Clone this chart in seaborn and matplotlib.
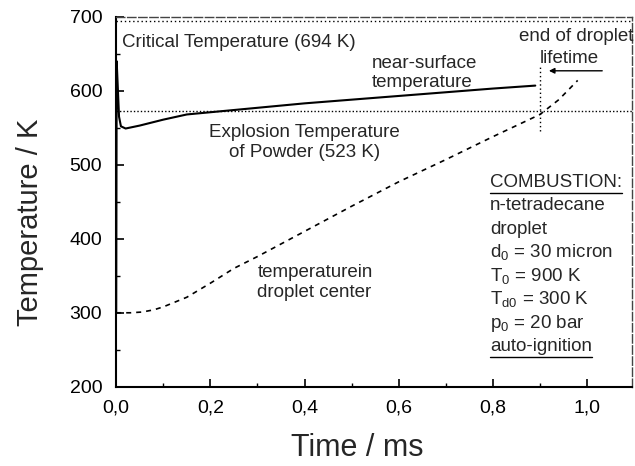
import matplotlib.pyplot as plt
import matplotlib.ticker as mticker
import pandas as pd
import seaborn as sns

# near-surface temperature (solid)
SURF_T = [0.0, 0.001, 0.003, 0.006, 0.01, 0.02, 0.05, 0.1, 0.15, 0.2, 0.3, 0.4,
          0.5, 0.6, 0.7, 0.8, 0.89]
SURF_K = [300, 640, 610, 565, 552, 549, 553, 561, 568, 571, 577, 583,
          588, 593, 598, 603, 607]

# temperature in droplet center (dashed)
CENT_T = [0.0, 0.03, 0.055, 0.08, 0.1, 0.15, 0.2, 0.25, 0.3, 0.4, 0.5, 0.6,
          0.7, 0.8, 0.9, 0.94, 0.98]
CENT_K = [300, 300, 301, 304, 308, 321, 340, 360, 376, 410, 444, 477,
          507, 538, 568, 588, 614]

CRITICAL_K = 694
EXPLOSION_K = 572
LIFETIME_MS = 0.9

X_TICKS = [0.0, 0.2, 0.4, 0.6, 0.8, 1.0]
Y_TICKS = [200, 300, 400, 500, 600, 700]

BOX_LINES = ["COMBUSTION:", "n-tetradecane", "droplet",
             r"d$_{\mathregular{0}}$ = 30 micron",
             r"T$_{\mathregular{0}}$ = 900 K",
             r"T$_{\mathregular{d0}}$ = 300 K",
             r"p$_{\mathregular{0}}$ = 20 bar", "auto-ignition"]

sns.set_theme(style="ticks")
plt.rcParams["font.family"] = ["Liberation Sans", "DejaVu Sans"]
plt.rcParams["mathtext.fontset"] = "custom"
plt.rcParams["mathtext.rm"] = "Liberation Sans"

surf = pd.DataFrame({"t": SURF_T, "T": SURF_K})
cent = pd.DataFrame({"t": CENT_T, "T": CENT_K})

fig = plt.figure(figsize=(6.35, 4.66), dpi=100)
ax = fig.add_axes([0.183, 0.170, 0.812, 0.794])

sns.lineplot(data=surf, x="t", y="T", ax=ax, color="black", linewidth=1.5,
             sort=False)
sns.lineplot(data=cent, x="t", y="T", ax=ax, color="black", linewidth=1.2,
             linestyle=(0, (3, 3)), sort=False)

ax.axhline(CRITICAL_K, color="black", linewidth=1.0, linestyle=(0, (1, 2)))
ax.axhline(EXPLOSION_K, color="black", linewidth=1.0, linestyle=(0, (1, 1.5)))
ax.plot([LIFETIME_MS, LIFETIME_MS], [545, 633], color="black",
        linewidth=1.0, linestyle=(0, (1, 2)))

ax.annotate("", xy=(0.913, 627), xytext=(1.038, 627),
            arrowprops=dict(arrowstyle="-|>", color="black", lw=1.0,
                            mutation_scale=8))

fs = 13.5
ax.text(0.013, 665, "Critical Temperature (694 K)", fontsize=fs, va="center")
ax.text(0.543, 624, "near-surface\ntemperature", fontsize=fs, va="center",
        linespacing=1.2)
ax.text(0.855, 673, "end of droplet", fontsize=fs, va="center")
ax.text(0.962, 643, "lifetime", fontsize=fs, va="center", ha="center")
ax.text(0.40, 530, "Explosion Temperature\nof Powder (523 K)", fontsize=fs,
        va="center", ha="center", linespacing=1.2)
ax.text(0.30, 341, "temperaturein\ndroplet center", fontsize=fs, va="center",
        linespacing=1.2)

y0 = 476
step = 31.7
texts = []
for i, line in enumerate(BOX_LINES):
    texts.append(ax.text(0.794, y0 - i * step, line, fontsize=fs, va="center"))

ax.set_xlim(0, 1.095)
ax.set_ylim(200, 700)

# underline first and last line of the box, using the drawn text extents
renderer = fig.canvas.get_renderer()
inv = ax.transData.inverted()
for txt, yline in [(texts[0], y0 - 14), (texts[-1], y0 - 7 * step - 14)]:
    bb = txt.get_window_extent(renderer)
    x_left = inv.transform((bb.x0, bb.y0))[0]
    x_right = inv.transform((bb.x1, bb.y0))[0]
    ax.plot([x_left, x_right], [yline, yline], color="black", linewidth=1.0)

ax.set_xticks(X_TICKS)
ax.set_yticks(Y_TICKS)
ax.xaxis.set_minor_locator(mticker.MultipleLocator(0.1))
ax.yaxis.set_minor_locator(mticker.MultipleLocator(50))
ax.xaxis.set_major_formatter(
    mticker.FuncFormatter(lambda v, _: f"{v:.1f}".replace(".", ",")))
ax.tick_params(which="both", direction="in", colors="black", labelsize=14)
ax.tick_params(axis="x", which="major", pad=9)
ax.tick_params(axis="y", which="major", pad=10)
ax.tick_params(which="major", length=6, width=1.2)
ax.tick_params(which="minor", length=3, width=1.0)

ax.set_xlabel("Time / ms", fontsize=22)
ax.set_ylabel("Temperature / K", fontsize=21)
ax.xaxis.set_label_coords(0.467, -0.125)
ax.yaxis.set_label_coords(-0.14, 0.445)

for side in ["left", "bottom"]:
    ax.spines[side].set_linewidth(1.5)
    ax.spines[side].set_color("black")
for side in ["top", "right"]:
    ax.spines[side].set_visible(True)
    ax.spines[side].set_linewidth(1.0)
    ax.spines[side].set_color("#444444")
    ax.spines[side].set_linestyle((0, (6, 2)))

fig.savefig("out.png", dpi=100)
